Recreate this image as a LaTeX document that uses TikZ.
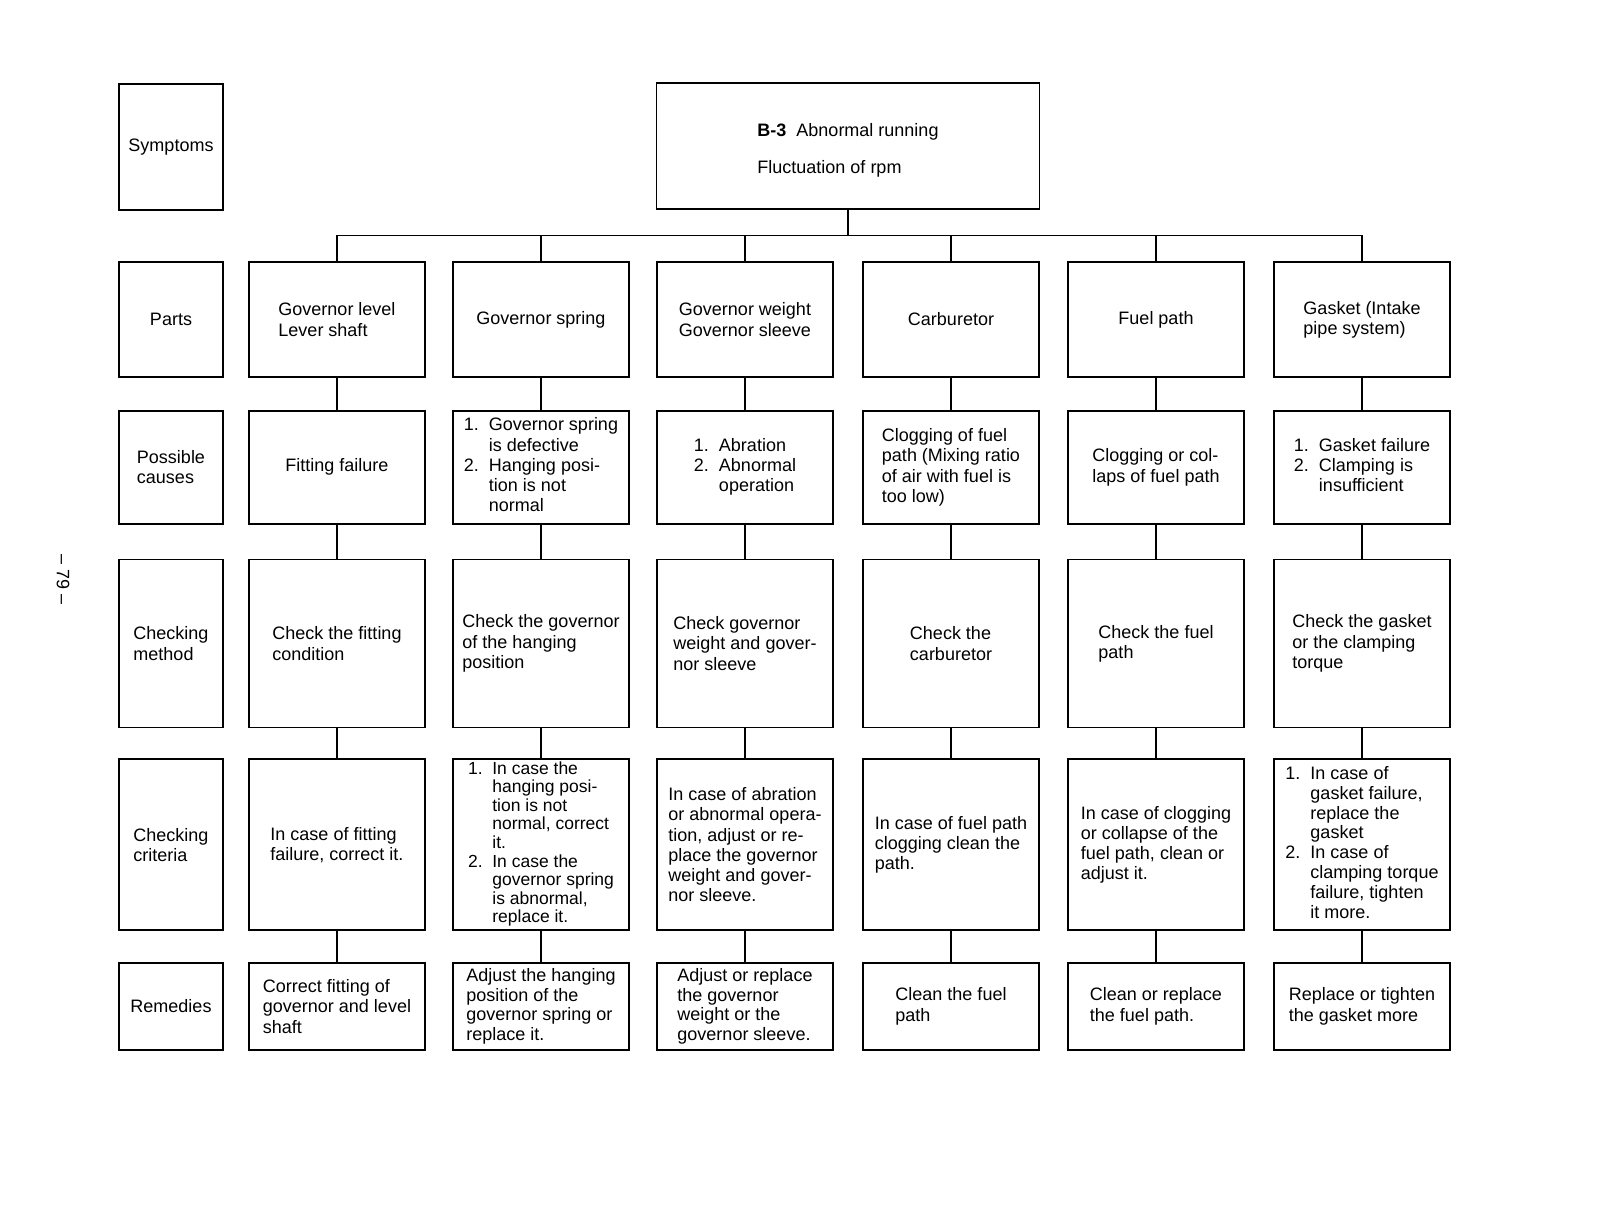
\documentclass[tikz,border=0pt]{standalone}
\usepackage{fontspec}
\setmainfont{Liberation Sans}
\newcommand{\numlist}[1]{\begin{tabular}{@{}l@{\ \ }l@{}}#1\end{tabular}}
\begin{document}
\begin{tikzpicture}[x=1pt,y=-1pt,
  box/.style={draw,line width=1.8pt,rectangle,align=left,inner sep=2pt,
    font=\fontsize{18}{20.2}\selectfont},
  lab/.style={box,minimum width=104},
  cell/.style={box,minimum width=176},
  rparts/.style={minimum height=115},
  rcause/.style={minimum height=113},
  rmeth/.style={minimum height=168},
  rcrit/.style={minimum height=171},
  rrem/.style={minimum height=87},
  conn/.style={line width=1.6pt}]
\useasboundingbox (0,0) rectangle (1598,1218);

% page number
\node[rotate=-90,font=\fontsize{18}{20}\selectfont] (pg) at (63,580) {– 79 –};

% row labels
\node[lab,minimum height=126] (lsym) at (171,146.8) {Symptoms};
\node[lab,rparts] (lpar) at (171,319.5) {Parts};
\node[lab,rcause] (lcau) at (171,467.3) {Possible\\causes};
\node[lab,rmeth] (lmet) at (171,643.5) {Checking\\method};
\node[lab,rcrit] (lcri) at (171,844.8) {Checking\\criteria};
\node[lab,rrem] (lrem) at (171,1006.4) {Remedies};

% top box
\node[box,minimum width=383,minimum height=126] (top) at (848,145.7)
  {\rule{0pt}{22pt}\textbf{B-3}\ \ Abnormal running\\[16.5pt]Fluctuation of rpm};

% parts
\node[cell,rparts] (p1) at (337,319.5) {Governor level\\Lever shaft};
\node[cell,rparts] (p2) at (541,319.5) {Governor spring};
\node[cell,rparts] (p3) at (745,319.5) {Governor weight\\Governor sleeve};
\node[cell,rparts] (p4) at (951,319.5) {Carburetor};
\node[cell,rparts] (p5) at (1156,319.5) {Fuel path};
\node[cell,rparts] (p6) at (1362,319.5) {Gasket (Intake\\pipe system)};

% possible causes
\node[cell,rcause] (c1) at (337,467.3) {Fitting failure};
\node[cell,rcause] (c2) at (541,467.3) {\numlist{1.&Governor spring\\&is defective\\2.&Hanging posi-\\&tion is not\\&normal}};
\node[cell,rcause] (c3) at (745,467.3) {\numlist{1.&Abration\\2.&Abnormal\\&operation}};
\node[cell,rcause] (c4) at (951,467.3) {Clogging of fuel\\path (Mixing ratio\\of air with fuel is\\too low)};
\node[cell,rcause] (c5) at (1156,467.3) {Clogging or col-\\laps of fuel path};
\node[cell,rcause] (c6) at (1362,467.3) {\numlist{1.&Gasket failure\\2.&Clamping is\\&insufficient}};

% checking method
\node[cell,rmeth] (m1) at (337,643.5) {Check the fitting\\condition};
\node[cell,rmeth] (m2) at (541,643.5) {Check the governor\\of the hanging\\position};
\node[cell,rmeth] (m3) at (745,643.5) {Check governor\\weight and gover-\\nor sleeve};
\node[cell,rmeth] (m4) at (951,643.5) {Check the\\carburetor};
\node[cell,rmeth] (m5) at (1156,643.5) {Check the fuel\\path};
\node[cell,rmeth] (m6) at (1362,643.5) {Check the gasket\\or the clamping\\torque};

% checking criteria
\node[cell,rcrit] (k1) at (337,844.8) {In case of fitting\\failure, correct it.};
\node[cell,rcrit,inner sep=1pt,font=\fontsize{17.5}{18.6}\selectfont] (k2) at (541,844.8)
  {\numlist{1.&In case the\\&hanging posi-\\&tion is not\\&normal, correct\\&it.\\2.&In case the\\&governor spring\\&is abnormal,\\&replace it.}};
\node[cell,rcrit] (k3) at (745,844.8) {In case of abration\\or abnormal opera-\\tion, adjust or re-\\place the governor\\weight and gover-\\nor sleeve.};
\node[cell,rcrit] (k4) at (951,844.8) {In case of fuel path\\clogging clean the\\path.};
\node[cell,rcrit] (k5) at (1156,844.8) {In case of clogging\\or collapse of the\\fuel path, clean or\\adjust it.};
\node[cell,rcrit,font=\fontsize{18}{19.8}\selectfont] (k6) at (1362,844.8)
  {\numlist{1.&In case of\\&gasket failure,\\&replace the\\&gasket\\2.&In case of\\&clamping torque\\&failure, tighten\\&it more.}};

% remedies
\node[cell,rrem] (r1) at (337,1006.4) {Correct fitting of\\governor and level\\shaft};
\node[cell,rrem,font=\fontsize{18}{19.6}\selectfont] (r2) at (541,1006.4) {Adjust the hanging\\position of the\\governor spring or\\replace it.};
\node[cell,rrem,font=\fontsize{18}{19.6}\selectfont] (r3) at (745,1006.4) {Adjust or replace\\the governor\\weight or the\\governor sleeve.};
\node[cell,rrem] (r4) at (951,1006.4) {Clean the fuel\\path};
\node[cell,rrem] (r5) at (1156,1006.4) {Clean or replace\\the fuel path.};
\node[cell,rrem] (r6) at (1362,1006.4) {Replace or tighten\\the gasket more};

% tree connectors
\coordinate (bus) at (848,235.4);
\draw[conn] (top.south) -- (top.south |- bus);
\draw[conn] (p1.north) -- (p1.north |- bus) -- (p6.north |- bus) -- (p6.north);
\foreach \i in {2,3,4,5} {\draw[conn] (p\i.north) -- (p\i.north |- bus);}
\foreach \i in {1,...,6} {
  \draw[conn] (p\i) -- (c\i);
  \draw[conn] (c\i) -- (m\i);
  \draw[conn] (m\i) -- (k\i);
  \draw[conn] (k\i) -- (r\i);
}
\end{tikzpicture}
\end{document}
